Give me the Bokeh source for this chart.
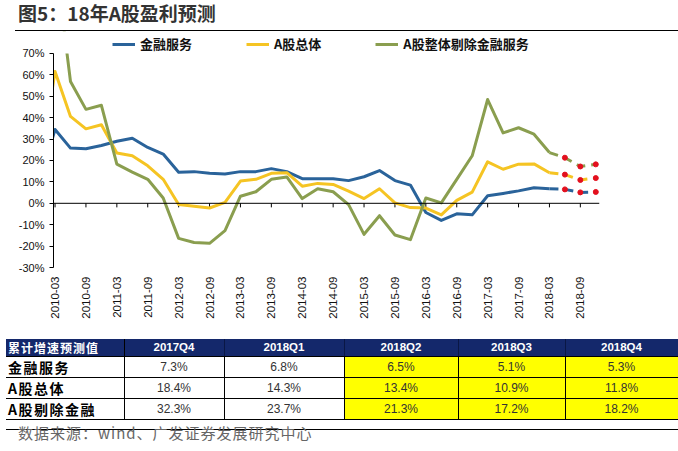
from math import pi
from bokeh.plotting import figure
from bokeh.models import (Legend, LegendItem, FixedTicker, PrintfTickFormatter,
                          Span, Div, Range1d)
from bokeh.layouts import column
from bokeh.embed import file_html
from bokeh.resources import INLINE

# ---------------- data ----------------
quarters = ["2009-12",
            "2010-03", "2010-06", "2010-09", "2010-12",
            "2011-03", "2011-06", "2011-09", "2011-12",
            "2012-03", "2012-06", "2012-09", "2012-12",
            "2013-03", "2013-06", "2013-09", "2013-12",
            "2014-03", "2014-06", "2014-09", "2014-12",
            "2015-03", "2015-06", "2015-09", "2015-12",
            "2016-03", "2016-06", "2016-09", "2016-12",
            "2017-03", "2017-06", "2017-09", "2017-12",
            "2018-03", "2018-06", "2018-09", "2018-12"]

tick_labels = ["2010-03", "2010-09", "2011-03", "2011-09", "2012-03", "2012-09",
               "2013-03", "2013-09", "2014-03", "2014-09", "2015-03", "2015-09",
               "2016-03", "2016-09", "2017-03", "2017-09", "2018-03", "2018-09"]

y_ticks = [-30, -20, -10, 0, 10, 20, 30, 40, 50, 60, 70]

# actual cumulative growth (%), 2009-12 ... 2018-03
fin = [10.0, 34.5, 25.8, 25.5, 27.0, 29.0, 30.4, 26.1, 23.0, 14.5, 14.8, 14.0, 13.7,
       14.8, 14.8, 16.2, 14.8, 11.5, 11.5, 11.5, 10.6, 12.4, 15.3, 10.6, 8.5,
       -4.3, -8.0, -4.9, -5.4, 3.5, 4.6, 5.8, 7.3, 6.8]
allA = [15.0, 61.6, 40.6, 34.8, 36.7, 23.5, 22.2, 17.5, 11.2, -0.6, -1.4, -2.2, 0.4,
        10.4, 11.2, 14.0, 14.3, 8.0, 9.3, 8.8, 5.7, 2.2, 6.8, 0.2, -2.0,
        -2.2, -5.4, 1.4, 5.2, 19.4, 15.9, 18.3, 18.4, 14.3]
exfin = [22.0, 115.0, 56.9, 43.9, 45.8, 18.3, 14.6, 11.2, 2.5, -16.4, -18.3, -18.7, -12.8,
         3.3, 5.4, 11.2, 12.3, 2.2, 6.8, 5.4, -0.6, -14.5, -5.8, -14.8, -17.0,
         2.5, 0.2, 11.2, 22.2, 48.5, 32.9, 35.3, 32.3, 23.7]

# table (累计增速预测值)
table_cols = ["2017Q4", "2018Q1", "2018Q2", "2018Q3", "2018Q4"]
table_rows = ["金融服务", "A股总体", "A股剔除金融"]
fin_table = [7.3, 6.8, 6.5, 5.1, 5.3]
all_table = [18.4, 14.3, 13.4, 10.9, 11.8]
exfin_table = [32.3, 23.7, 21.3, 17.2, 18.2]

series_names = ["金融服务", "A股总体", "A股整体剔除金融服务"]

# ---------------- styles ----------------
BLUE = "#2A639A"
YELLOW = "#F5C423"
GREEN = "#8A9E4F"
RED = "#E3101E"
NAVY = "#14286B"
CJK = "Noto Sans CJK SC"
LAT = "Liberation Sans"

# positions: 2010-03 -> 0
xpos = [k - 1 for k in range(len(quarters))]
x_act = xpos[:len(fin)]
x_fc = xpos[len(fin) - 1:]          # 2018-03 .. 2018-12
fin_fc = fin_table[1:]
all_fc = all_table[1:]
exfin_fc = exfin_table[1:]
tick_pos = [quarters.index(t) - 1 for t in tick_labels]

Y_MIN, Y_MAX, Y_TOP = -30, 70, 80.28   # frame extends above 70% to hold the legend
X0, X1 = -0.1, 35.24

p = figure(width=678, height=304, output_backend="svg", toolbar_location=None,
           x_range=Range1d(X0, X1), y_range=Range1d(Y_MIN, Y_TOP),
           min_border_left=53, min_border_right=79, min_border_top=0,
           min_border_bottom=68, margin=0)
p.outline_line_color = None
p.xgrid.visible = False
p.ygrid.visible = False
p.background_fill_color = "white"
p.border_fill_color = "white"

# y axis
p.yaxis.ticker = FixedTicker(ticks=y_ticks)
p.yaxis.bounds = (Y_MIN, Y_MAX)
p.yaxis.formatter = PrintfTickFormatter(format="%d%%")
p.yaxis.major_label_text_font = LAT
p.yaxis.major_label_text_font_size = "11px"
p.yaxis.major_label_text_color = "#111111"
p.yaxis.major_tick_out = 4
p.yaxis.major_tick_in = 0
p.yaxis.minor_tick_line_color = None
p.yaxis.axis_line_color = "black"
p.yaxis.major_tick_line_color = "black"
p.yaxis.major_label_standoff = 5

# x axis (labels only; axis line is the zero line)
p.xaxis.ticker = FixedTicker(ticks=tick_pos)
p.xaxis.major_label_overrides = {tp: lab for tp, lab in zip(tick_pos, tick_labels)}
p.xaxis.major_label_orientation = pi / 2
p.xaxis.axis_line_color = None
p.xaxis.major_tick_line_color = None
p.xaxis.minor_tick_line_color = None
p.xaxis.major_tick_out = 0
p.xaxis.major_tick_in = 0
p.xaxis.major_label_standoff = 9
p.xaxis.major_label_text_font = LAT
p.xaxis.major_label_text_font_size = "11.5px"
p.xaxis.major_label_text_color = "#111111"

# zero line with ticks
p.add_layout(Span(location=0, dimension="width", line_color="black", line_width=1))
p.segment(x0=tick_pos, y0=[0] * len(tick_pos), x1=tick_pos, y1=[-1.9] * len(tick_pos),
          line_color="black", line_width=1)

renderers = []
for ys, fc, col in [(fin, fin_fc, BLUE), (allA, all_fc, YELLOW), (exfin, exfin_fc, GREEN)]:
    r = p.line(x_act, ys, line_color=col, line_width=3, line_join="round")
    p.line(x_fc, fc, line_color=col, line_width=3, line_dash="9 6")
    p.scatter(x_fc[1:], fc[1:], marker="circle", size=5, fill_color=RED, line_color=RED)
    renderers.append(r)

# mask: the plot area ends at 70%, the band above only holds the legend
p.quad(left=[X0], right=[X1], bottom=[Y_MAX], top=[Y_TOP + 5],
       fill_color="white", line_color=None)

legend = Legend(items=[LegendItem(label=n, renderers=[r]) for n, r in zip(series_names, renderers)],
                orientation="horizontal", location=(59, 214),
                label_text_font=CJK, label_text_font_style="bold",
                label_text_font_size="13px", label_text_color="#111111",
                glyph_width=23, glyph_height=18, label_height=18, label_standoff=5,
                spacing=54, padding=0, margin=0,
                border_line_color=None, background_fill_alpha=0)
p.add_layout(legend)

# ---------------- title ----------------
title_div = Div(width=678, height=31, margin=0, text=(
    f'<div style="margin-left:15px;width:663px;height:30.5px;box-sizing:border-box;'
    f'border-bottom:1.5px solid #000;padding-top:4px;padding-left:3px;">'
    f'<span style="font-family:\'{CJK}\';font-weight:bold;'
    f'font-size:19px;line-height:18px;color:#333;">图5：18年A股盈利预测</span></div>'))

# ---------------- table ----------------
widths = [118, 100, 120, 114, 107, 113]
cell = "padding:0;border:1px solid #000;text-align:center;vertical-align:middle;"
html = [f'<div style="margin-top:4px;margin-left:6px;width:672px;">',
        '<table style="border-collapse:collapse;table-layout:fixed;width:672px;">',
        '<colgroup>' + "".join(f'<col style="width:{w}px">' for w in widths) + '</colgroup>',
        f'<tr style="height:17px;background:{NAVY};">',
        f'<td style="{cell}border-left:none;border-top:none;border-color:{NAVY} #000 #000 {NAVY};text-align:left;padding-left:2px;'
        f'font-family:\'{CJK}\';font-weight:bold;font-size:12px;letter-spacing:1px;color:white;">累计增速预测值</td>']
for c in table_cols:
    html.append(f'<td style="{cell}border-top:none;border-color:{NAVY} #0a1745 #000 #0a1745;font-family:\'{LAT}\';font-weight:bold;'
                f'font-size:11.5px;color:white;">{c}</td>')
html.append('</tr>')
row_h = [17, 18, 18]
for name, vals, h in zip(table_rows, [fin_table, all_table, exfin_table], row_h):
    html.append(f'<tr style="height:{h}px;">')
    html.append(f'<td style="{cell}border-left:none;text-align:left;padding-left:2px;font-family:\'{CJK}\';'
                f'font-weight:bold;font-size:14px;letter-spacing:1.5px;color:#000;">{name}</td>')
    for j, v in enumerate(vals):
        bg = "#FFFF00" if j >= 2 else "white"
        html.append(f'<td style="{cell}background:{bg};font-family:\'{LAT}\';font-size:12px;'
                    f'color:#333;">{v:.1f}%</td>')
    html.append('</tr>')
html.append('</table>')
html.append('<div style="margin-top:9px;width:672px;border-top:1px solid #000;"></div></div>')
table_div = Div(width=678, height=85, margin=0, text="".join(html))

# ---------------- source ----------------
source_div = Div(width=678, height=28, margin=0, text=(
    f'<div style="padding-left:18px;padding-top:5px;font-family:\'{CJK}\';font-size:15px;'
    f'line-height:16px;letter-spacing:1px;color:#666;">数据来源：wind、广发证券发展研究中心</div>'))

layout = column(title_div, p, table_div, source_div, spacing=0)
open("out.html", "w").write(file_html(layout, INLINE))
